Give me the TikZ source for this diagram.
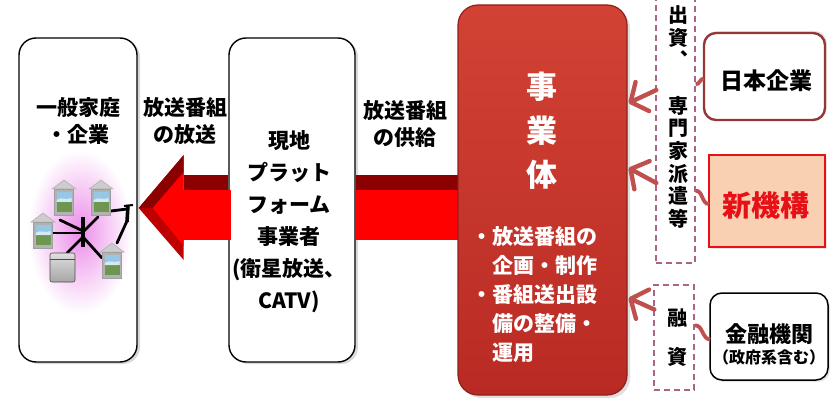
\documentclass[tikz,border=0pt]{standalone}
\usepackage{fontspec}
\newfontfamily\jp{Noto Sans CJK JP}
\usetikzlibrary{calc,arrows.meta,shadows}

\definecolor{feedred}{RGB}{192,80,77}
\definecolor{arrowdark}{RGB}{139,0,0}
\definecolor{arrowmid}{RGB}{190,0,0}
\definecolor{arrowred}{RGB}{255,0,0}
\definecolor{bizface}{RGB}{210,66,52}
\definecolor{bizlow}{RGB}{185,42,36}
\definecolor{bizedge}{RGB}{145,30,25}
\definecolor{dashpink}{RGB}{170,100,135}
\definecolor{jpedge}{RGB}{149,55,53}
\definecolor{neofill}{RGB}{250,208,178}
\definecolor{neored}{RGB}{230,16,22}
\definecolor{glowpink}{RGB}{236,140,234}
\definecolor{skyblue}{RGB}{150,200,230}
\definecolor{meadow}{RGB}{110,150,80}

\tikzset{
  panel/.style={draw=black, line width=1.4pt, fill=white, rounded corners=17pt,
    drop shadow={shadow xshift=3pt, shadow yshift=-2pt, opacity=0.3}},
  lbl/.style={font=\jp\bfseries\fontsize{21}{27}\selectfont, align=center, inner sep=0pt},
  feed/.style={draw=feedred, line width=4.4pt, line cap=round,
    -{Straight Barb[length=13pt,width=32pt,round]}},
  link/.style={draw=feedred, line width=3.8pt},
  dashbox/.style={draw=dashpink, line width=1.3pt, dash pattern=on 6pt off 4pt},
  net/.style={draw=black, line width=2.8pt, line cap=round}
}

% one terminal: grey roof, framed screen with a landscape
\newcommand\terminal[2]{%
  \begin{scope}[shift={(#1,#2)}]
    \fill[gray!40, draw=gray!65, line width=0.5pt] (-12,-8) -- (0,-17) -- (12,-8) -- cycle;
    \fill[gray!60, draw=gray!75, line width=0.5pt] (-9.5,-8) rectangle (9.5,18);
    \fill[skyblue] (-7.5,-5) rectangle (7.5,5);
    \fill[meadow] (-7.5,5) rectangle (7.5,15);
    \fill[white, opacity=0.6] (-7.5,3) .. controls (-2,-1) and (2,4) .. (7.5,1) -- (7.5,5) -- (-7.5,5) -- cycle;
  \end{scope}}

\begin{document}
\begin{tikzpicture}[x=1pt,y=-1pt]
\useasboundingbox (0,0) rectangle (832,406);

% ---------- main boxes ----------
\node[panel, minimum width=118pt, minimum height=324pt] (home) at (78,200) {};
\node[panel, minimum width=126pt, minimum height=324pt] (plat) at (292,200) {};

% broad delivery arrow: shaft runs behind the platform box
\coordinate (tip) at ($(home.east)+(1,8)$);
\fill[arrowdark] ($(tip)+(45,-33)$) rectangle ($(plat.west)+(0,-10)$);
\fill[arrowred]  ($(tip)+(45,-18)$) rectangle ($(plat.west)+(0,40)$);
\fill[arrowdark] ($(plat.east)+(0,-25)$) rectangle (466,190);
\fill[arrowred]  ($(plat.east)+(0,-10)$) rectangle (466,240);
% arrow head with bevelled faces
\fill[arrowmid]  ($(tip)+(45,-53)$) -- (tip) -- ($(tip)+(45,52)$) -- cycle;
\fill[arrowdark] ($(tip)+(45,-53)$) -- (tip) -- ($(tip)+(14,0)$) -- ($(tip)+(45,-36)$) -- cycle;
\fill[arrowred]  ($(tip)+(45,-36)$) -- ($(tip)+(14,0)$) -- ($(tip)+(45,38)$) -- cycle;
\fill[arrowred]  ($(tip)+(44,-18)$) rectangle ($(tip)+(92,32)$);

% production company
\node[draw=bizedge, line width=1.2pt, rounded corners=20pt,
      top color=bizface, bottom color=bizlow,
      drop shadow={shadow xshift=3pt, shadow yshift=-3pt, opacity=0.25},
      minimum width=169pt, minimum height=390pt] (biz) at (542.5,200) {};

% partner boxes
\node[draw=jpedge, line width=2.4pt, fill=white, rounded corners=12pt,
      drop shadow={shadow xshift=2pt, shadow yshift=2pt, opacity=0.2},
      minimum width=121pt, minimum height=87pt] (jpco) at (764.5,76.5) {};
\node[draw=neored, line width=2.4pt, fill=neofill,
      drop shadow={shadow xshift=2pt, shadow yshift=-2pt, opacity=0.2},
      minimum width=116pt, minimum height=92pt] (neo) at (767,201) {};
\node[draw=black, line width=1.5pt, fill=white, rounded corners=12pt,
      drop shadow={shadow xshift=2pt, shadow yshift=-2pt, opacity=0.2},
      minimum width=118pt, minimum height=87pt] (fin) at (769,336.5) {};

% dashed label frames
\node[dashbox, minimum width=39pt, minimum height=270pt] (dashA) at (675.5,128) {};
\node[dashbox, minimum width=40pt, minimum height=105pt] (dashB) at (674,337.5) {};

% ---------- connectors ----------
\draw[feed] ($(dashA.west)+(1,-38)$) -- ($(biz.east)+(1,-97)$);
\draw[feed] ($(dashA.west)+(1,55)$) -- ($(biz.east)+(1,-32)$);
\draw[feed] ($(dashB.west)+(1,-28)$) -- ($(biz.east)+(1,98)$);
\draw[link] ($(dashA.east)+(0,-44)$) to[out=-20,in=180] ($(jpco.west)+(1,2)$);
\draw[link] ($(dashA.east)+(0,63)$) to[out=10,in=180] ($(neo.west)+(1,3)$);
\draw[link] ($(dashB.east)+(0,-12)$) to[out=10,in=180] ($(fin.west)+(1,3)$);

% ---------- households illustration ----------
\shade[inner color=glowpink, outer color=white] (80,232) ellipse [x radius=52, y radius=82];
\draw[net] (53,233) -- (83,233);
\draw[net] (60,220) -- (83,231);
\draw[net] (98,217) -- (83,232);
\draw[net] (67,253) -- (83,237);
\draw[net] (83,237) -- (102,258);
\draw[net] (111,211) -- (127,209);
\draw[net] (127,221) -- (117,243);
\draw[black, line width=4pt] (83,217) -- (83,247);
\draw[black, line width=3.6pt] (128,205) -- (127,222);
\draw[black, line width=2pt] (124,206) -- (133,205);
\terminal{64}{197}
\terminal{101}{197}
\terminal{43}{230}
\terminal{112}{260}
\shade[top color=gray!25, bottom color=gray!70, draw=gray!60!black, line width=0.6pt,
       rounded corners=2pt] (50,253) rectangle (75,282);
\draw[gray!60!black, line width=0.6pt] (50,259) -- (75,259);

% ---------- texts ----------
\node[lbl] (homeT) at (78,121) {一般家庭\\・企業};
\node[lbl] (castT) at (185,121) {放送番組\\の放送};
\node[lbl] (supT) at (405,124) {放送番組\\の供給};
\node[lbl, font=\jp\bfseries\fontsize{21}{32}\selectfont] (platT) at (289,222)
  {現地\\プラット\\フォーム\\事業者\\(衛星放送、\\CATV)};
\node[lbl, text=white, font=\jp\bfseries\fontsize{31}{44}\selectfont] (bizT) at (542,131) {事\\業\\体};
\node[lbl, text=white, align=left, anchor=west, font=\jp\bfseries\fontsize{21}{29}\selectfont]
  (bizL) at (471,295)
  {・放送番組の\\\hphantom{・}企画・制作\\・番組送出設\\\hphantom{・}備の整備・\\\hphantom{・}運用};
\node[lbl, font=\jp\bfseries\fontsize{20}{22.7}\selectfont] (dashAT) at (678,117)
  {出\\資\\︑\\　\\専\\門\\家\\派\\遣\\等};
\node[lbl, font=\jp\bfseries\fontsize{20}{39}\selectfont] (dashBT) at (677,338) {融\\資};
\node[lbl, font=\jp\bfseries\fontsize{23}{27}\selectfont] (jpT) at (766,81) {日本企業};
\node[lbl, text=neored, font=\jp\bfseries\fontsize{29}{30}\selectfont] (neoT) at (766,205) {新機構};
\node[lbl, font=\jp\bfseries\fontsize{22}{23}\selectfont] (finT) at (769,334) {金融機関};
\node[lbl, font=\jp\bfseries\fontsize{16}{17}\selectfont] (finS) at (769,357) {（政府系含む）};
\end{tikzpicture}
\end{document}
